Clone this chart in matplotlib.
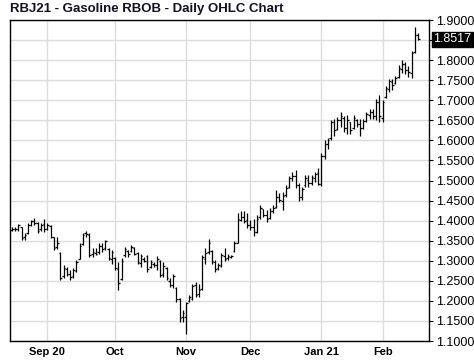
import matplotlib
matplotlib.use("Agg")
import matplotlib.pyplot as plt
import numpy as np
import pandas as pd

plt.rcParams['font.family'] = ['Liberation Sans', 'DejaVu Sans']

# Trading days shown (US holidays excluded)
holidays = ['2020-09-07', '2020-11-26', '2020-12-25', '2021-01-01', '2021-01-18', '2021-02-15']
dates = pd.bdate_range('2020-08-17', '2021-02-17', freq='C', holidays=holidays)

highs = [1.383, 1.385, 1.392, 1.385, 1.370, 1.393, 1.402, 1.406, 1.396, 1.395, 1.403,
         1.393, 1.389, 1.360, 1.360, 1.323, 1.289, 1.285, 1.277, 1.281, 1.302, 1.343,
         1.370, 1.375, 1.368, 1.331, 1.331, 1.343, 1.343, 1.352, 1.331, 1.328,
         1.310, 1.297, 1.306, 1.335, 1.327, 1.339, 1.335, 1.323, 1.318, 1.310, 1.314,
         1.302, 1.297, 1.312, 1.302, 1.297, 1.285, 1.256, 1.268, 1.235, 1.206, 1.177,
         1.197, 1.214, 1.243, 1.247, 1.243, 1.314, 1.331, 1.353, 1.327, 1.302, 1.295,
         1.320, 1.331, 1.318, 1.314, 1.348, 1.418, 1.425, 1.423, 1.418,
         1.402, 1.405, 1.414, 1.440, 1.430, 1.427, 1.432, 1.438, 1.477, 1.468, 1.472,
         1.489, 1.512, 1.522, 1.527, 1.493, 1.485, 1.514, 1.514, 1.514, 1.522, 1.531,
         1.568, 1.600, 1.605, 1.650, 1.654, 1.658, 1.671, 1.660, 1.662, 1.646, 1.662,
         1.654, 1.654, 1.654, 1.671, 1.679, 1.679, 1.704, 1.712,
         1.700, 1.735, 1.754, 1.754, 1.760, 1.787, 1.800, 1.796, 1.785, 1.822, 1.883, 1.868]
lows = [1.373, 1.375, 1.373, 1.352, 1.352, 1.366, 1.387, 1.390, 1.370, 1.375, 1.372,
        1.376, 1.356, 1.327, 1.330, 1.252, 1.258, 1.262, 1.252, 1.256, 1.272, 1.305,
        1.340, 1.360, 1.310, 1.310, 1.314, 1.318, 1.323, 1.327, 1.302, 1.293,
        1.277, 1.228, 1.252, 1.310, 1.310, 1.322, 1.314, 1.293, 1.285, 1.297, 1.273,
        1.281, 1.285, 1.278, 1.260, 1.260, 1.252, 1.235, 1.231, 1.197, 1.148, 1.148,
        1.118, 1.197, 1.202, 1.210, 1.210, 1.227, 1.293, 1.318, 1.293, 1.272, 1.277,
        1.285, 1.300, 1.302, 1.306, 1.322, 1.343, 1.398, 1.393, 1.381,
        1.377, 1.362, 1.368, 1.405, 1.408, 1.397, 1.404, 1.420, 1.432, 1.447, 1.427,
        1.460, 1.482, 1.500, 1.481, 1.448, 1.452, 1.485, 1.485, 1.489, 1.497, 1.489,
        1.486, 1.554, 1.579, 1.600, 1.612, 1.625, 1.633, 1.620, 1.617, 1.617, 1.629,
        1.633, 1.612, 1.629, 1.646, 1.654, 1.654, 1.650, 1.646,
        1.645, 1.705, 1.721, 1.725, 1.740, 1.755, 1.767, 1.765, 1.758, 1.756, 1.817, 1.850]
opens = [1.376, 1.380, 1.378, 1.384, 1.358, 1.368, 1.390, 1.398, 1.394, 1.378, 1.392,
         1.380, 1.387, 1.358, 1.335, 1.320, 1.262, 1.280, 1.268, 1.262, 1.275, 1.305,
         1.342, 1.368, 1.365, 1.318, 1.320, 1.322, 1.336, 1.332, 1.330, 1.305,
         1.308, 1.280, 1.255, 1.315, 1.325, 1.325, 1.333, 1.320, 1.295, 1.305, 1.312,
         1.285, 1.292, 1.290, 1.300, 1.268, 1.282, 1.250, 1.240, 1.232, 1.204, 1.160,
         1.160, 1.200, 1.205, 1.240, 1.218, 1.230, 1.305, 1.322, 1.325, 1.298, 1.282,
         1.288, 1.312, 1.306, 1.310, 1.325, 1.345, 1.402, 1.410, 1.402,
         1.390, 1.385, 1.372, 1.408, 1.428, 1.415, 1.406, 1.425, 1.435, 1.460, 1.450,
         1.464, 1.485, 1.505, 1.512, 1.488, 1.460, 1.490, 1.502, 1.495, 1.505, 1.518,
         1.492, 1.560, 1.590, 1.605, 1.645, 1.628, 1.650, 1.655, 1.632, 1.645, 1.630,
         1.650, 1.642, 1.632, 1.648, 1.662, 1.670, 1.660, 1.695,
         1.655, 1.708, 1.728, 1.745, 1.742, 1.758, 1.778, 1.790, 1.776, 1.768, 1.820, 1.862]
closes = [1.380, 1.378, 1.388, 1.356, 1.364, 1.390, 1.398, 1.395, 1.374, 1.390, 1.380,
          1.388, 1.360, 1.332, 1.345, 1.258, 1.282, 1.268, 1.260, 1.276, 1.298, 1.338,
          1.365, 1.366, 1.315, 1.322, 1.318, 1.338, 1.330, 1.348, 1.306, 1.322,
          1.282, 1.245, 1.300, 1.330, 1.318, 1.335, 1.318, 1.298, 1.312, 1.300, 1.280,
          1.296, 1.290, 1.305, 1.265, 1.288, 1.258, 1.240, 1.262, 1.205, 1.158, 1.170,
          1.195, 1.210, 1.238, 1.215, 1.228, 1.310, 1.320, 1.345, 1.300, 1.280, 1.290,
          1.315, 1.305, 1.312, 1.312, 1.345, 1.405, 1.410, 1.400, 1.388,
          1.385, 1.372, 1.405, 1.432, 1.415, 1.405, 1.425, 1.432, 1.460, 1.452, 1.462,
          1.482, 1.505, 1.510, 1.488, 1.460, 1.480, 1.505, 1.495, 1.508, 1.515, 1.492,
          1.560, 1.592, 1.600, 1.645, 1.625, 1.650, 1.660, 1.630, 1.652, 1.625, 1.655,
          1.640, 1.630, 1.648, 1.665, 1.670, 1.660, 1.695, 1.660,
          1.695, 1.730, 1.748, 1.738, 1.755, 1.780, 1.790, 1.775, 1.770, 1.818, 1.862, 1.8517]

month_labels = ['Sep 20', 'Oct', 'Nov', 'Dec', 'Jan 21', 'Feb']
month_starts = ['2020-09', '2020-10', '2020-11', '2020-12', '2021-01', '2021-02']
title = 'RBJ21 - Gasoline RBOB - Daily OHLC Chart'

n = min(len(dates), len(highs), len(lows), len(opens), len(closes))
idx = np.arange(n)

fig = plt.figure(figsize=(4.74, 3.61), dpi=100)
ax = fig.add_axes([10 / 474, 20 / 361, 419 / 474, 321 / 361])

tick = 0.5
ax.vlines(idx, lows[:n], highs[:n], color='black', lw=0.9)
ax.hlines(opens[:n], idx - tick, idx, color='black', lw=0.9)
ax.hlines(closes[:n], idx, idx + tick, color='black', lw=0.9)

ax.set_xlim(-0.6, 129.4)
ax.set_ylim(1.1, 1.9)

yt = np.round(np.arange(1.1, 1.9001, 0.05), 2)
ax.set_yticks(yt)
ax.set_yticklabels(['' if abs(v - 1.85) < 1e-9 else f'{v:.4f}' for v in yt])
ax.yaxis.tick_right()
ax.tick_params(axis='y', length=3, width=0.8, pad=2, labelsize=9, colors='black')

dser = pd.Series(dates[:n])
xpos = [int(np.argmax((dser.dt.strftime('%Y-%m') == m).values)) for m in month_starts]
ax.set_xticks(xpos)
ax.set_xticklabels(month_labels, fontweight='bold', fontsize=8)
ax.tick_params(axis='x', length=0, pad=4)

ax.grid(True, color='#dcdcdc', lw=1.0)
ax.set_axisbelow(True)
for s in ax.spines.values():
    s.set_color('black')
    s.set_linewidth(1.0)

last = closes[n - 1]
ax.annotate(f'{last:.4f}', xy=(1.0, last), xycoords=('axes fraction', 'data'),
            xytext=(3, 0), textcoords='offset points', va='center', ha='left',
            fontsize=9, color='white',
            bbox=dict(boxstyle='square,pad=0.12', fc='black', ec='black'))

fig.text(10.5 / 474, 1 - 3 / 361, title, ha='left', va='top',
         fontsize=9.5, fontweight='bold', color='#111122')

fig.savefig('out.png', dpi=100)
